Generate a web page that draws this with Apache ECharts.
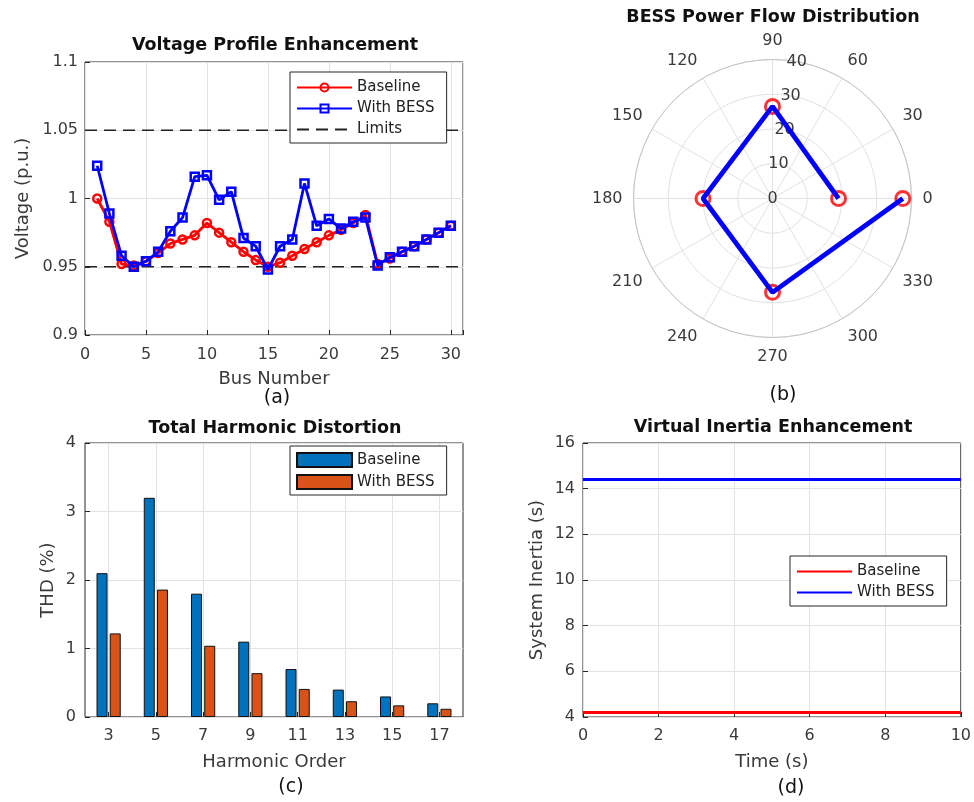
<!DOCTYPE html>
<html>
<head>
<meta charset="utf-8">
<script src="https://cdn.jsdelivr.net/npm/echarts@6/dist/echarts.min.js"></script>
<style>html,body{margin:0;padding:0;background:#fff;}#c{width:974px;height:802px;}</style>
</head>
<body>
<div id="c"></div>
<script>
// ---- Data ----
const busNumbers = [1,2,3,4,5,6,7,8,9,10,11,12,13,14,15,16,17,18,19,20,21,22,23,24,25,26,27,28,29,30];
const voltageBaseline = [1.000,0.983,0.952,0.951,0.954,0.960,0.967,0.970,0.973,0.982,0.975,0.968,0.961,0.955,0.950,0.953,0.958,0.963,0.968,0.973,0.977,0.982,0.988,0.952,0.956,0.961,0.965,0.970,0.975,0.980];
const voltageBESS = [1.024,0.989,0.958,0.950,0.954,0.961,0.976,0.986,1.016,1.017,0.999,1.005,0.971,0.965,0.948,0.965,0.970,1.011,0.980,0.985,0.978,0.983,0.986,0.951,0.957,0.961,0.965,0.970,0.975,0.980];
const voltageLimits = [0.95, 1.05];
const limitSpan = [0, 31];

const polarTheta = [0, 90, 180, 270, 360];
const polarPower = [19, 26.5, 20, 27, 37.5];

const harmonicOrders = [3,5,7,9,11,13,15,17];
const thdBaseline = [2.1,3.2,1.8,1.1,0.7,0.4,0.3,0.2];
const thdBESS = [1.22,1.86,1.04,0.64,0.41,0.23,0.17,0.12];

const timeSec = [0, 10];
const inertiaBaseline = [4.2, 4.2];
const inertiaBESS = [14.4, 14.4];

// ---- Styles ----
const FONT = "'DejaVu Sans', sans-serif";
const AX = '#262626';
const LBL = '#3a3a3a';
const GRIDC = '#e2e2e2';

function pairs(xs, ys) { return xs.map((x, i) => [x, ys[i]]); }

function valAxis(extra) {
  return Object.assign({
    type: 'value',
    axisLine: { show: false },
    axisTick: { show: true, inside: true, length: 5, lineStyle: { color: AX } },
    axisLabel: { color: LBL, fontSize: 16, fontFamily: FONT },
    splitLine: { show: true, lineStyle: { color: GRIDC, width: 1 } },
    nameLocation: 'middle',
    nameTextStyle: { color: LBL, fontSize: 18, fontFamily: FONT }
  }, extra);
}

const legendBase = {
  orient: 'vertical',
  backgroundColor: '#fff',
  borderColor: AX,
  borderWidth: 1,
  borderRadius: 0,
  itemWidth: 55,
  itemHeight: 14,
  itemGap: 6,
  padding: [6, 12, 5, 6],
  selectedMode: false,
  textStyle: { fontSize: 15, fontFamily: FONT, color: '#222' },
  formatter: n => n.trim()
};

const limitSeries = voltageLimits.map(v => ({
  name: 'Limits', type: 'line', xAxisIndex: 0, yAxisIndex: 0,
  data: limitSpan.map(x => [x, v]),
  symbol: 'none', silent: true,
  lineStyle: { color: '#222', width: 1.5, type: [12, 7] },
  itemStyle: { color: '#222' },
  z: 1
}));

const option = {
  animation: false,
  backgroundColor: '#fff',
  textStyle: { fontFamily: FONT },
  graphic: [
    { type: 'text', x: 275, y: 45, style: { text: 'Voltage Profile Enhancement', font: 'bold 17.5px ' + FONT, fill: '#111', align: 'center', verticalAlign: 'middle' } },
    { type: 'text', x: 773, y: 17, style: { text: 'BESS Power Flow Distribution', font: 'bold 17.5px ' + FONT, fill: '#111', align: 'center', verticalAlign: 'middle' } },
    { type: 'text', x: 275, y: 428, style: { text: 'Total Harmonic Distortion', font: 'bold 17.5px ' + FONT, fill: '#111', align: 'center', verticalAlign: 'middle' } },
    { type: 'text', x: 773, y: 427, style: { text: 'Virtual Inertia Enhancement', font: 'bold 17.5px ' + FONT, fill: '#111', align: 'center', verticalAlign: 'middle' } },
    { type: 'text', x: 277, y: 398, style: { text: '(a)', font: '19px ' + FONT, fill: '#111', align: 'center', verticalAlign: 'middle' } },
    { type: 'text', x: 783, y: 395, style: { text: '(b)', font: '19px ' + FONT, fill: '#111', align: 'center', verticalAlign: 'middle' } },
    { type: 'text', x: 291, y: 787, style: { text: '(c)', font: '19px ' + FONT, fill: '#111', align: 'center', verticalAlign: 'middle' } },
    { type: 'text', x: 791, y: 788, style: { text: '(d)', font: '19px ' + FONT, fill: '#111', align: 'center', verticalAlign: 'middle' } }
  ],
  grid: [
    { left: 85, top: 62, width: 378, height: 273, show: true, borderColor: AX, borderWidth: 1, backgroundColor: '#fff' },
    { left: 85, top: 443, width: 378, height: 274, show: true, borderColor: AX, borderWidth: 1, backgroundColor: '#fff' },
    { left: 583, top: 443, width: 380, height: 274, show: true, borderColor: AX, borderWidth: 1, backgroundColor: '#fff' }
  ],
  xAxis: [
    valAxis({ gridIndex: 0, min: 0, max: 31, interval: 5, name: 'Bus Number', nameGap: 35,
      axisLabel: { color: LBL, fontSize: 16, fontFamily: FONT, margin: 12, formatter: v => (v % 5 === 0 ? String(v) : '') } }),
    valAxis({ gridIndex: 1, min: 2, max: 18, name: 'Harmonic Order', nameGap: 36,
      axisTick: { show: true, inside: true, length: 5, lineStyle: { color: AX }, customValues: harmonicOrders },
      axisLabel: { color: LBL, fontSize: 16, fontFamily: FONT, margin: 11, customValues: harmonicOrders } }),
    valAxis({ gridIndex: 2, min: 0, max: 10, interval: 2, name: 'Time (s)', nameGap: 36,
      axisLabel: { color: LBL, fontSize: 16, fontFamily: FONT, margin: 11 } })
  ],
  yAxis: [
    valAxis({ gridIndex: 0, min: 0.9, max: 1.1, interval: 0.05, name: 'Voltage (p.u.)', nameGap: 53,
      axisLabel: { color: LBL, fontSize: 16, fontFamily: FONT, margin: 7 } }),
    valAxis({ gridIndex: 1, min: 0, max: 4, interval: 1, name: 'THD (%)', nameGap: 28,
      axisLabel: { color: LBL, fontSize: 16, fontFamily: FONT, margin: 9 } }),
    valAxis({ gridIndex: 2, min: 4, max: 16, interval: 2, name: 'System Inertia (s)', nameGap: 37,
      axisLabel: { color: LBL, fontSize: 16, fontFamily: FONT, margin: 8 } })
  ],
  polar: [
    { center: [772.5, 198.5], radius: 139 },
    { center: [772.5, 198.5], radius: 139 }
  ],
  angleAxis: [
    { polarIndex: 0, type: 'value', min: 0, max: 360, interval: 30, startAngle: 0, clockwise: false,
      axisLine: { show: true, lineStyle: { color: '#c4c4c4', width: 1 } },
      axisTick: { show: false },
      axisLabel: { color: LBL, fontSize: 16, fontFamily: FONT, margin: 11, align: 'center', verticalAlign: 'middle' },
      splitLine: { show: true, lineStyle: { color: GRIDC, width: 1 } } },
    { polarIndex: 1, type: 'value', min: 0, max: 360, startAngle: 80, clockwise: false,
      axisLine: { show: false }, axisTick: { show: false }, axisLabel: { show: false }, splitLine: { show: false } }
  ],
  radiusAxis: [
    { polarIndex: 0, type: 'value', min: 0, max: 40, interval: 10,
      axisLine: { show: false }, axisTick: { show: false }, axisLabel: { show: false },
      splitLine: { show: true, lineStyle: { color: GRIDC, width: 1 } } },
    { polarIndex: 1, type: 'value', min: 0, max: 40, interval: 10,
      axisLine: { show: false }, axisTick: { show: false }, splitLine: { show: false },
      axisLabel: { show: true, color: LBL, fontSize: 16, fontFamily: FONT, margin: 0, align: 'center', verticalAlign: 'middle' } }
  ],
  legend: [
    Object.assign({}, legendBase, { left: 290, top: 72, itemHeight: 10, itemGap: 6, padding: [8, 12, 6, 6],
      data: ['Baseline', 'With BESS', { name: 'Limits', itemStyle: { opacity: 0 } }] }),
    Object.assign({}, legendBase, { left: 290, top: 446, data: [{ name: 'Baseline ', icon: 'rect' }, { name: 'With BESS ', icon: 'rect' }] }),
    Object.assign({}, legendBase, { left: 790, top: 556, padding: [8, 12, 6, 6],
      data: [{ name: 'Baseline  ', itemStyle: { opacity: 0 } }, { name: 'With BESS  ', itemStyle: { opacity: 0 } }] })
  ],
  series: [
    ...limitSeries,
    { name: 'Baseline', type: 'line', xAxisIndex: 0, yAxisIndex: 0, data: pairs(busNumbers, voltageBaseline),
      symbol: 'circle', symbolSize: 8, showAllSymbol: true,
      lineStyle: { color: '#ff0000', width: 2.8 },
      itemStyle: { color: 'rgba(255,0,0,0)', borderColor: '#ff0000', borderWidth: 2.5 }, z: 2 },
    { name: 'With BESS', type: 'line', xAxisIndex: 0, yAxisIndex: 0, data: pairs(busNumbers, voltageBESS),
      symbol: 'rect', symbolSize: 8, showAllSymbol: true,
      lineStyle: { color: '#0000ff', width: 2.8 },
      itemStyle: { color: 'rgba(0,0,255,0)', borderColor: '#0000ff', borderWidth: 2.5 }, z: 3 },

    { name: 'Power', type: 'scatter', coordinateSystem: 'polar', polarIndex: 0,
      data: pairs(polarPower, polarTheta),
      symbol: 'circle', symbolSize: 14,
      itemStyle: { color: 'rgba(255,0,0,0)', borderColor: '#ff0000', borderWidth: 3 }, z: 2 },
    { name: 'Power line', type: 'line', coordinateSystem: 'polar', polarIndex: 0,
      data: pairs(polarPower, polarTheta), symbol: 'none',
      lineStyle: { color: '#0000ff', width: 4.8 }, z: 3 },

    { name: 'Baseline ', type: 'bar', xAxisIndex: 1, yAxisIndex: 1, data: pairs(harmonicOrders, thdBaseline),
      barWidth: 11, barGap: '20%',
      itemStyle: { color: '#0072BD', borderColor: '#111', borderWidth: 1 } },
    { name: 'With BESS ', type: 'bar', xAxisIndex: 1, yAxisIndex: 1, data: pairs(harmonicOrders, thdBESS),
      barWidth: 11, barGap: '20%',
      itemStyle: { color: '#D95319', borderColor: '#111', borderWidth: 1 } },

    { name: 'Baseline  ', type: 'line', xAxisIndex: 2, yAxisIndex: 2, data: pairs(timeSec, inertiaBaseline),
      symbol: 'none', lineStyle: { color: '#ff0000', width: 3 }, itemStyle: { color: '#ff0000' } },
    { name: 'With BESS  ', type: 'line', xAxisIndex: 2, yAxisIndex: 2, data: pairs(timeSec, inertiaBESS),
      symbol: 'none', lineStyle: { color: '#0000ff', width: 3 }, itemStyle: { color: '#0000ff' } }
  ]
};

const chart = echarts.init(document.getElementById('c'), null, { renderer: 'canvas' });
chart.setOption(option);
</script>
</body>
</html>
